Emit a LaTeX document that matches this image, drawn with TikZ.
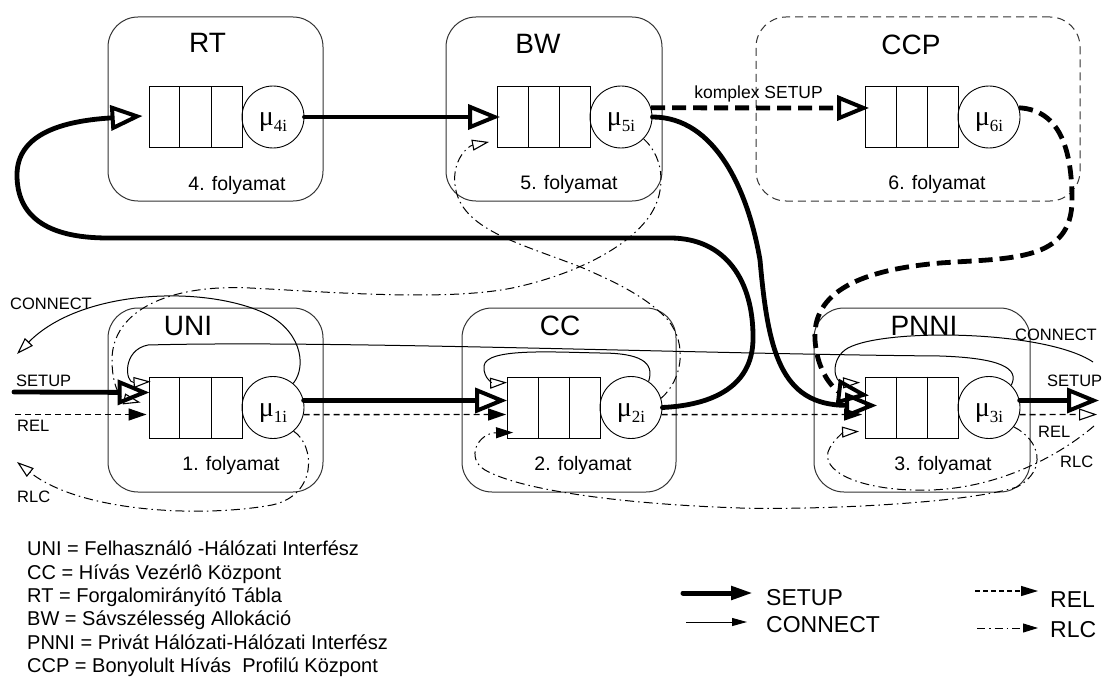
\documentclass[tikz,border=0pt]{standalone}
\usepackage{fontspec}
\setmainfont{Liberation Sans}
\newfontfamily\mufont{Liberation Serif}
\usetikzlibrary{arrows.meta,calc}

\newcommand{\mulab}[1]{\raisebox{-9pt}[0pt][0pt]{μ\raisebox{-6pt}{\fontsize{17}{17}\selectfont #1}}}

\begin{document}
\begin{tikzpicture}[x=1pt,y=-1pt,
  procbox/.style={draw=black!80, line width=1pt, rounded corners=30pt,
    minimum height=184pt, inner sep=0pt},
  queue/.style={draw, line width=0.9pt, minimum width=93pt, minimum height=61pt, inner sep=0pt},
  server/.style={draw, circle, line width=0.9pt, minimum size=62pt, inner sep=0pt,
    font=\mufont\fontsize{28}{28}\selectfont},
  title/.style={anchor=base, inner sep=0pt, font=\fontsize{28}{28}\selectfont},
  proc/.style={anchor=base, inner sep=0pt, font=\fontsize{19.5}{20}\selectfont},
  sig/.style={anchor=base west, inner sep=0pt, font=\fontsize{16.5}{17}\selectfont},
  legl/.style={anchor=base west, inner sep=0pt, font=\fontsize{20}{22}\selectfont},
  legr/.style={anchor=base west, inner sep=0pt, font=\fontsize{23}{24}\selectfont},
  bigtip/.style={-{Triangle[open, length=32pt, width=25pt, line width=4pt]}},
  setup/.style={line width=4.8pt, line cap=round, bigtip},
  setupdash/.style={line width=4.8pt, dash pattern=on 14pt off 7pt, bigtip},
  connect/.style={line width=1pt,
    -{Triangle[open, length=17pt, width=11pt, line width=1.1pt]}},
  rel/.style={line width=1.4pt, dash pattern=on 6pt off 4pt,
    -{Triangle[length=18pt, width=12pt]}},
  relopen/.style={line width=1.4pt, dash pattern=on 6pt off 4pt,
    -{Triangle[open, length=18pt, width=12pt, line width=1.1pt]}},
  rlc/.style={line width=1pt, dash pattern=on 9pt off 4pt on 1.5pt off 4pt,
    -{Triangle[open, length=17pt, width=11pt, line width=1.1pt]}},
  rlcfill/.style={line width=1pt, dash pattern=on 9pt off 4pt on 1.5pt off 4pt,
    -{Triangle[length=17pt, width=11pt]}},
]
\useasboundingbox (0,0) rectangle (1102,682);

% ---------- process boxes ----------
\node[procbox, minimum width=215pt] (bRT)   at (215.5,109) {};
\node[procbox, minimum width=216pt] (bBW)   at (554,109) {};
\node[procbox, minimum width=324pt, dash pattern=on 8pt off 5pt] (bCCP) at (918,109) {};
\node[procbox, minimum width=215pt] (bUNI)  at (215.5,400) {};
\node[procbox, minimum width=214pt] (bCC)   at (569,400) {};
\node[procbox, minimum width=216pt] (bPNNI) at (922,400) {};

\node[title] (tRT)   at (207.5,53) {RT};
\node[title] (tBW)   at (538,54) {BW};
\node[title] (tCCP)  at (911,55) {CCP};
\node[title] (tUNI)  at (188,335) {UNI};
\node[title] (tCC)   at (560,335) {CC};
\node[title] (tPNNI) at (924,335) {PNNI};

\node[proc] (f4) at (237,190) {4. folyamat};
\node[proc] (f5) at (569,189) {5. folyamat};
\node[proc] (f6) at (937,189) {6. folyamat};
\node[proc] (f1) at (231,470) {1. folyamat};
\node[proc] (f2) at (583,470) {2. folyamat};
\node[proc] (f3) at (943,470) {3. folyamat};

% ---------- queues and servers ----------
\node[queue] (q4) at (195.5,117) {};
\node[queue] (q5) at (544,117) {};
\node[queue] (q6) at (912,117) {};
\node[queue] (q1) at (195.5,407.5) {};
\node[queue] (q2) at (554,407.5) {};
\node[queue] (q3) at (912,407.5) {};
\foreach \q in {q1,q2,q3,q4,q5,q6}{
  \draw[line width=0.9pt] ($(\q.north west)!1/3!(\q.north east)$) -- ($(\q.south west)!1/3!(\q.south east)$);
  \draw[line width=0.9pt] ($(\q.north west)!2/3!(\q.north east)$) -- ($(\q.south west)!2/3!(\q.south east)$);
}
\node[server] (s4) at (273,117)   {\mulab{4i}};
\node[server] (s5) at (621,117)   {\mulab{5i}};
\node[server] (s6) at (989,117)   {\mulab{6i}};
\node[server] (s1) at (273,407.5) {\mulab{1i}};
\node[server] (s2) at (631,407.5) {\mulab{2i}};
\node[server] (s3) at (989,407.5) {\mulab{3i}};

% ---------- free ends ----------
\coordinate (setupIn)  at (14,392);
\coordinate (setupOut) at (1099,400.5);
\coordinate (relIn)    at (15,414.5);
\coordinate (relOut)   at (1097,414.5);
\coordinate (connIn)   at (1093,362);
\coordinate (connOut)  at (17,354);
\coordinate (rlcIn)    at (1094,426);
\coordinate (rlcOut)   at (17,462);

% ---------- SETUP ----------
\draw[setup] (setupIn) -- ($(q1.west)+(1,-15)$);
\draw[setup] (s1.13) -- ($(q2.west)+(0,-7)$);
\draw[setup] (s2.0) .. controls (715,405) and (752,385) .. (753,340)
  .. controls (754,280) and (725,238) .. (670,238) -- (108,238)
  .. controls (45,238) and (17,215) .. (17,175)
  .. controls (17,135) and (60,121) .. ($(q4.west)+(-6,-1)$);
\draw[setup] (s4.east) -- ($(q5.west)+(3,0)$);
\draw[setup] (s5.east) .. controls (715,117) and (748,190) .. (760,260)
  .. controls (768,350) and (780,405) .. ($(q3.west)+(12,-2)$);
\draw[setup] (s3.13) -- (setupOut);

% complex SETUP via CCP
\draw[setupdash] (s5.17) -- ($(q6.west)+(4,-9)$);
\draw[setupdash] (s6.17) .. controls (1060,110) and (1072,150) .. (1072,200)
  .. controls (1072,262) and (1010,258) .. (940,263)
  .. controls (860,270) and (812,292) .. (815,340)
  .. controls (818,380) and (840,392) .. ($(q3.west)+(4,-12)$);

% ---------- CONNECT ----------
\draw[connect] (connIn) .. controls (1045,330) and (885,328) .. (848,348)
  .. controls (830,358) and (833,383) .. ($(q3.north west)+(-5,6)$);
\draw[connect] (s3.45) .. controls (1020,368) and (1000,358) .. (940,356)
  .. controls (700,354) and (330,340) .. (148,345)
  .. controls (122,350) and (125,383) .. ($(q1.north west)+(2,5)$);
\draw[connect] (s2.56) .. controls (655,362) and (640,353) .. (600,353)
  .. controls (550,352) and (486,348) .. (484,366)
  .. controls (483,380) and (495,383) .. ($(q2.north west)+(0,6)$);
\draw[connect] (s1.50) .. controls (308,365) and (300,328) .. (262,312)
  .. controls (200,285) and (80,290) .. (connOut);

% ---------- REL ----------
\draw[rel] (relIn) -- ($(q1.west)+(-2,7)$);
\draw[rel] (s1.-13) -- ($(q2.west)+(-1,7)$);
\draw[rel] (s2.-13) -- ($(q3.west)+(-3,7)$);
\draw[relopen] (s3.-13) -- (relOut);

% ---------- RLC ----------
\draw[rlc] (s1.-49) .. controls (315,445) and (318,495) .. (272,505)
  .. controls (200,518) and (80,512) .. (rlcOut);
\draw[rlc] (s5.-44) .. controls (665,158) and (668,195) .. (645,222)
  .. controls (620,252) and (570,275) .. (517,287)
  .. controls (450,302) and (330,292) .. (250,288)
  .. controls (170,284) and (112,310) .. (112,360)
  .. controls (112,385) and (120,398) .. ($(q1.west)+(-8,-5)$);
\draw[rlc] (s2.17) .. controls (682,380) and (688,345) .. (668,320)
  .. controls (645,295) and (610,280) .. (583,268)
  .. controls (520,243) and (460,230) .. (455,185)
  .. controls (452,160) and (468,146) .. ($(q5.south west)+(-8,-6)$);
\draw[rlcfill] (s3.-38) .. controls (1040,440) and (1048,470) .. (1017,487)
  .. controls (960,505) and (800,510) .. (740,508)
  .. controls (620,504) and (520,490) .. (485,470)
  .. controls (465,458) and (478,433) .. ($(q2.west)+(6,25)$);
\draw[rlc] (rlcIn) .. controls (1060,455) and (1000,488) .. (930,490)
  .. controls (870,492) and (822,475) .. (828,452)
  .. controls (832,440) and (845,432) .. ($(q3.south west)+(-6,-7)$);

% ---------- signal labels ----------
\node[sig] (lbConnL)  at (10,309)   {CONNECT};
\node[sig] (lbSetupL) at (16,386)   {SETUP};
\node[sig] (lbRelL)   at (17,431)   {REL};
\node[sig] (lbRlcL)   at (17,502)   {RLC};
\node[sig] (lbConnR)  at (1015,340) {CONNECT};
\node[sig] (lbSetupR) at (1047,386) {SETUP};
\node[sig] (lbRelR)   at (1038,437) {REL};
\node[sig] (lbRlcR)   at (1060,467) {RLC};
\node[sig, anchor=base east, font=\fontsize{17.5}{18}\selectfont] (lbKomplex) at (823,99) {komplex SETUP};

% ---------- abbreviations ----------
\node[legl] (ab1) at (27,555.7) {UNI = Felhasználó -Hálózati Interfész};
\node[legl] (ab2) at (27,579)   {CC = Hívás Vezérlô Központ};
\node[legl] (ab3) at (27,602.3) {RT = Forgalomirányító Tábla};
\node[legl] (ab4) at (27,625.7) {BW = Sávszélesség Allokáció};
\node[legl] (ab5) at (27,649.3) {PNNI = Privát Hálózati-Hálózati Interfész};
\node[legl] (ab6) at (27,672.3) {CCP = Bonyolult Hívás\ \ Profilú Központ};

% ---------- line legend ----------
\coordinate (kS1) at (683,593);  \coordinate (kS2) at (753,593);
\coordinate (kC1) at (686,622);  \coordinate (kC2) at (747,622);
\coordinate (kR1) at (975,591);  \coordinate (kR2) at (1038,591);
\coordinate (kL1) at (977,628);  \coordinate (kL2) at (1038,628);
\draw[line width=5pt, line cap=round, -{Triangle[length=22pt, width=13pt]}] (kS1) -- (kS2);
\draw[line width=1pt, -{Triangle[length=15pt, width=8pt]}] (kC1) -- (kC2);
\draw[line width=1.3pt, dash pattern=on 5pt off 3pt, -{Triangle[length=17pt, width=10pt]}] (kR1) -- (kR2);
\draw[line width=1pt, dash pattern=on 8pt off 4pt on 1.5pt off 4pt, -{Triangle[length=15pt, width=9pt]}] (kL1) -- (kL2);
\node[legr] (kSt) at (766,605) {SETUP};
\node[legr] (kCt) at (766,632) {CONNECT};
\node[legr] (kRt) at (1050,607) {REL};
\node[legr] (kLt) at (1050,637) {RLC};
\end{tikzpicture}
\end{document}
